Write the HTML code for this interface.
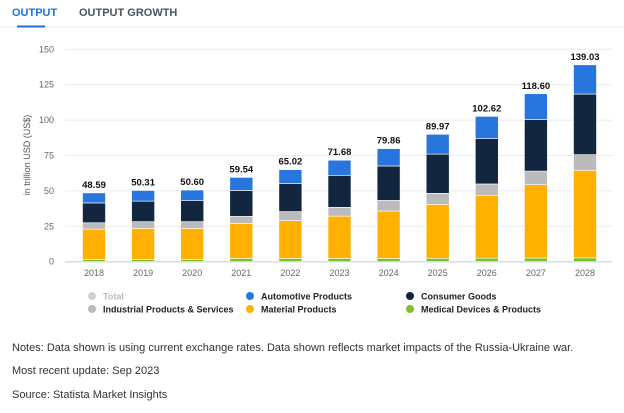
<!DOCTYPE html>
<html><head><meta charset="utf-8"><style>
body{margin:0;background:#fff;width:624px;height:413px;overflow:hidden;font-family:"Liberation Sans",sans-serif;}
svg text{font-family:"Liberation Sans",sans-serif;}
.note{position:absolute;left:12px;font-size:11px;color:#333;white-space:nowrap;}
</style></head><body>
<div style="position:relative;width:624px;height:413px">
<svg width="624" height="413" style="position:absolute;left:0;top:0">
<text x="12" y="16" font-size="11" font-weight="bold" fill="#1a73d9">OUTPUT</text>
<text x="79" y="16" font-size="11" font-weight="bold" fill="#4a5560">OUTPUT GROWTH</text>
<line x1="0" y1="27" x2="624" y2="27" stroke="#eee" stroke-width="1"/>
<rect x="17" y="25.5" width="28" height="2" fill="#1a73d9"/>
<g id="grid"></g><g id="bars"></g><g id="labels"></g>
<text transform="translate(30,155) rotate(-90)" text-anchor="middle" font-size="9" fill="#555">in trillion USD (US$)</text>
<g id="legend"></g>
</svg>
<div class="note" style="top:342px">Notes: Data shown is using current exchange rates. Data shown reflects market impacts of the Russia-Ukraine war.</div>
<div class="note" style="top:365px">Most recent update: Sep 2023</div>
<div class="note" style="top:389px">Source: Statista Market Insights</div>
</div>
<script>
const years=["2018","2019","2020","2021","2022","2023","2024","2025","2026","2027","2028"];
const medical=[1.5,1.5,1.5,2.3,2.3,2.3,2.3,2.4,2.5,2.6,2.7];
const material=[21.5,22,22,24.8,26.7,29.9,33.5,38.1,44.4,51.8,61.8];
const industrial=[4.5,4.8,4.8,4.9,6.4,6.2,7.5,7.8,8,9.6,11.1];
const consumer=[14,14.5,14.8,18.3,19.9,22.6,24.3,27.7,32,36.5,42.8];
const totals=[48.59,50.31,50.60,59.54,65.02,71.68,79.86,89.97,102.62,118.60,139.03];
const yTicks=[0,25,50,75,100,125,150];
const NS="http://www.w3.org/2000/svg";
const y0=261.7,ppu=212.4/150;
const Y=v=>y0-v*ppu;
const X=i=>94+i*49.1;
function mk(tag,attrs,parent){const e=document.createElementNS(NS,tag);for(const k in attrs)e.setAttribute(k,attrs[k]);parent.appendChild(e);return e;}
const grid=document.getElementById('grid'),bars=document.getElementById('bars'),labels=document.getElementById('labels'),legend=document.getElementById('legend');
yTicks.forEach(t=>{
 const l=mk('line',{x1:65,x2:612,y1:Y(t),y2:Y(t),stroke:t===0?'#d5dbe8':'#ebebeb','stroke-width':t===0?1.5:1},grid);
 
 
 const tx=mk('text',{x:54,y:Y(t)+3,'text-anchor':'end','font-size':9,fill:'#666'},grid);
 tx.textContent=t;
 
 
});
const series=[["medical",medical,"#7cbf2a"],["material",material,"#ffb000"],["industrial",industrial,"#bbbbbb"],["consumer",consumer,"#12263f"]];
years.forEach((yr,i)=>{
 let cum=0;const w=23,x=X(i)-w/2;
 series.forEach(([nm,arr,c])=>{
  const r=mk('rect',{x:x,y:Y(cum+arr[i]),width:w,height:arr[i]*ppu,fill:c,stroke:'#fff','stroke-width':0.6},bars);
  
  
  cum+=arr[i];
 });
 const a=mk('rect',{x:x,y:Y(totals[i]),width:w,height:(totals[i]-cum)*ppu,fill:'#2876dd',stroke:'#fff','stroke-width':0.6},bars);
 
 
 const t=mk('text',{x:X(i),y:Y(totals[i])-5,'text-anchor':'middle','font-size':9.5,'font-weight':'bold',fill:'#111'},labels);
 t.textContent=totals[i].toFixed(2);
 
 
 const xl=mk('text',{x:X(i),y:276,'text-anchor':'middle','font-size':9,fill:'#666'},labels);
 xl.textContent=yr;
 
 
});
const leg=[["Total","#d0d0d0",92,296,"#bbb"],["Automotive Products","#2876dd",250,296,"#222"],["Consumer Goods","#12263f",410,296,"#222"],["Industrial Products & Services","#bbbbbb",92,309,"#222"],["Material Products","#ffb000",250,309,"#222"],["Medical Devices & Products","#7cbf2a",410,309,"#222"]];
leg.forEach(([n,c,x,y,tc])=>{
 const g=mk('g',{},legend);
 
 
 mk('circle',{cx:x,cy:y,r:4,fill:c},g);
 const t=mk('text',{x:x+11,y:y+3.5,'font-size':9,'font-weight':'bold',fill:tc},g);
 t.textContent=n;
});
</script>
</body></html>
